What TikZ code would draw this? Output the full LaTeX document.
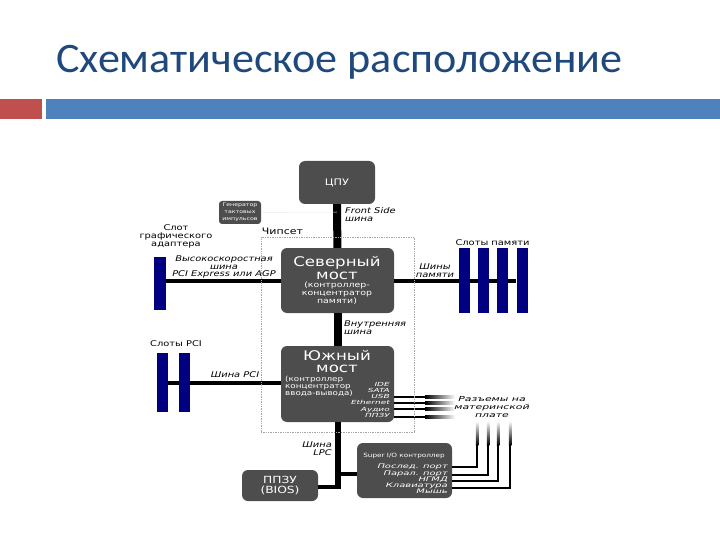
\documentclass[tikz,border=0pt]{standalone}
\usepackage{fontspec}
\setmainfont[FakeStretch=1.25]{DejaVu Sans}
\newfontfamily\titlefont[FakeStretch=1.05]{Carlito}
\newfontfamily\widefont[FakeStretch=1.6]{DejaVu Sans}
\usetikzlibrary{positioning}
\definecolor{chipGray}{RGB}{77, 77, 77}
\definecolor{slotBlue}{RGB}{0, 0, 128}
\definecolor{titleBlue}{RGB}{31, 73, 125}
\definecolor{barBlue}{RGB}{79, 129, 189}
\definecolor{barRed}{RGB}{192, 80, 77}
\newcommand{\labelsize}{\lineskiplimit=-20pt\fontsize{7.9}{7.9}\selectfont}
\newcommand{\bigsize}{\lineskiplimit=-20pt\fontsize{13.3}{12.5}\selectfont}
\newcommand{\smallsize}{\lineskiplimit=-20pt\fontsize{7.5}{8}\selectfont}
\newcommand{\notesize}{\lineskiplimit=-20pt\fontsize{7}{7}\selectfont}
\newcommand{\portsize}[2]{\lineskiplimit=-20pt\widefont\fontsize{#1}{#2}\selectfont\itshape}
\tikzset{
  chipbox/.style={draw=none, fill=chipGray, rounded corners=6pt, text=white, align=center, inner sep=0pt},
  slotbar/.style={draw=none, fill=slotBlue, inner sep=0pt},
  busline/.style={draw=black, line width=4pt},
  widebus/.style={draw=black, line width=8pt},
  fadeline/.style={draw=black, line width=2.5pt},
  buslabel/.style={inner sep=0pt, align=center, font=\labelsize},
  chiptext/.style={text=white, inner sep=0pt},
  chipframe/.style={draw=gray!70, densely dotted, line width=0.7pt, inner sep=0pt}
}
\begin{document}
\begin{tikzpicture}[x=1pt, y=-1pt]
  \useasboundingbox (0,0) rectangle (720,540);
  % title and bars
  \node[inner sep=0pt, anchor=base west, text=titleBlue, font=\titlefont\fontsize{42}{44}\selectfont] (title) at (56,73) {Схематическое расположение};
  \node[fill=barRed, inner sep=0pt, minimum width=42pt, minimum height=20pt] (barleft) at (21,109.5) {};
  \node[fill=barBlue, inner sep=0pt, minimum width=675pt, minimum height=20pt] (barright) at (383.5,109.5) {};

  % chips
  \node[chipbox, minimum width=76pt, minimum height=43pt, font=\fontsize{9}{10}\selectfont] (cpu) at (337,182.5) {ЦПУ};
  \node[chipbox, minimum width=42pt, minimum height=23pt, rounded corners=3pt, font=\fontsize{5}{7}\selectfont] (clock) at (240,212.5) {Генератор\\тактовых\\импульсов};
  \node[chipbox, minimum width=113pt, minimum height=65pt] (north) at (337.5,280.5) {};
  \node[chipbox, minimum width=113pt, minimum height=76pt] (south) at (337.5,384) {};
  \node[chipbox, minimum width=76pt, minimum height=31pt, font=\fontsize{9.8}{10.5}\selectfont] (bios) at (280,485.5) {ППЗУ\\(BIOS)};
  \node[chipbox, minimum width=95pt, minimum height=55pt] (superio) at (404.5,470.5) {};

  % slots
  \node[slotbar, minimum width=12pt, minimum height=53pt] (agpslot) at (160,283.5) {};
  \foreach \slotname/\slotx in {mem1/464.5, mem2/483.5, mem3/502.5, mem4/522}
    \node[slotbar, minimum width=11pt, minimum height=65pt] (\slotname) at (\slotx,280.5) {};
  \node[slotbar, minimum width=11pt, minimum height=59pt] (pci1) at (162.5,382.5) {};
  \node[slotbar, minimum width=11pt, minimum height=59pt] (pci2) at (184.5,382.5) {};

  % free ends
  \coordinate (lpcjoin) at (338,487);
  \coordinate (siojoin) at (338,474);
  \coordinate (clockjoin) at (337,212);

  % buses
  \draw[widebus] (cpu) -- (north);
  \draw[widebus] (north) -- (south);
  \draw[busline] (north.west) -- (north.west -| agpslot.east);
  \draw[busline] (north.east) -- (mem1.west);
  \draw[busline] (mem1) -- (mem2);
  \draw[busline] (mem2) -- (mem3);
  \draw[busline] (mem3) -- (mem4);
  \draw[busline] (pci2.east) -- (pci2.east -| south.west);
  \draw[busline] (pci1) -- (pci2);
  \draw[line width=6pt] (south.south -| lpcjoin) -- ([yshift=-2pt]lpcjoin);
  \draw[busline] (lpcjoin) -- (lpcjoin -| bios.east);
  \draw[busline] (siojoin) -- (siojoin -| superio.west);
  \draw[gray!15, line width=0.5pt] (clock) -- (clockjoin);

  % ports of the south bridge, fading out
  \foreach \porty in {397, 403, 409, 417} {
    \coordinate (portend) at (425,\porty);
    \draw[fadeline] (south.east |- portend) -- (portend);
    \shade[left color=black, right color=white] (425,\porty-1.25) rectangle (455,\porty+1.25);
  }
  % ports of the super i/o chip, fading upwards
  \foreach \porty/\portx in {467/477, 475/488, 481/498, 488/510} {
    \coordinate (portcorner) at (\portx,\porty);
    \draw[fadeline] (superio.east |- portcorner) -- (portcorner) -- (\portx,445);
    \shade[top color=white, bottom color=black] (\portx-1.25,421) rectangle (\portx+1.25,445);
  }

  \node[chipframe, minimum width=153pt, minimum height=195pt] (chipset) at (337.5,334.5) {};

  % texts in the north bridge
  \node[chiptext, align=center, font=\bigsize] (northname) at (337,268) {Северный\\мост};
  \node[chiptext, align=center, font=\smallsize] (northnote) at (337,293) {(контроллер-\\концентратор\\памяти)};
  % texts in the south bridge
  \node[chiptext, align=center, font=\bigsize] (southname) at (337,361.5) {Южный\\мост};
  \node[chiptext, align=left, anchor=north west, font=\notesize] (southnote) at (285,375.5) {(контроллер\\концентратор\\ввода-вывода)};
  \node[chiptext, align=right, anchor=north east, font=\portsize{5.6}{6.2}] (southports) at (390,382) {IDE\\SATA\\USB\\Ethernet\\Аудио\\ППЗУ};
  % texts in the super i/o chip
  \node[chiptext, font=\fontsize{5.8}{6}\selectfont] (siotitle) at (404,456) {Super I/O контроллер};
  \node[chiptext, align=right, anchor=north east, font=\portsize{6.2}{6.3}] (sioports) at (448,464) {Послед. порт\\Парал. порт\\НГМД\\Клавиатура\\Мышь};

  % bus labels
  \node[buslabel, font=\fontsize{8.8}{9}\selectfont] (chipsetlabel) at (282.5,231) {Чипсет};
  \node[buslabel] (agplabel) at (176,236) {Слот\\графического\\адаптера};
  \node[buslabel, font=\labelsize\itshape] (agpbus) at (224,267) {Высокоскоростная\\шина\\PCI Express или AGP};
  \node[buslabel, font=\labelsize\itshape, align=left, anchor=north west] (fsblabel) at (345,207) {Front Side\\шина};
  \node[buslabel] (memlabel) at (492.5,243) {Слоты памяти};
  \node[buslabel, font=\labelsize\itshape] (membus) at (435,271) {Шины\\памяти};
  \node[buslabel, font=\labelsize\itshape, align=left, anchor=north west] (innerbus) at (344,321) {Внутренняя\\шина};
  \node[buslabel] (pcilabel) at (176,344) {Слоты PCI};
  \node[buslabel, font=\labelsize\itshape] (pcibus) at (235,375) {Шина PCI};
  \node[buslabel, font=\labelsize\itshape, align=right, anchor=north east] (lpcbus) at (332,442) {Шина\\LPC};
  \node[buslabel, font=\portsize{6.8}{8}] (boardlabel) at (492,407) {Разъемы на\\материнской\\плате};
\end{tikzpicture}
\end{document}
